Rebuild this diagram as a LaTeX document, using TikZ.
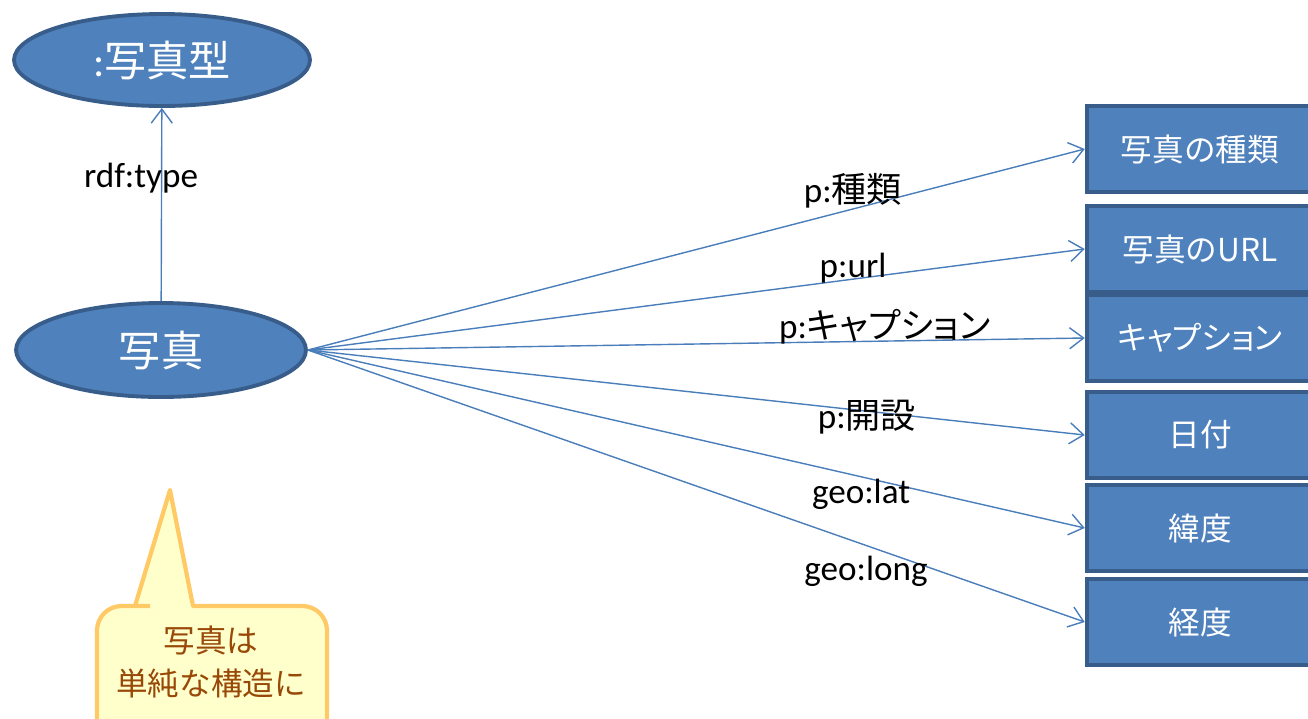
\documentclass[tikz,border=0pt]{standalone}
\usepackage{fontspec}
\setmainfont{Carlito}
\newfontfamily\cjk{Noto Sans CJK JP}
\newfontfamily\cjkprop[RawFeature=+palt]{Noto Sans CJK JP}
\usetikzlibrary{arrows.meta,shapes.geometric}

\definecolor{nodefill}{RGB}{79,129,189}
\definecolor{nodeline}{RGB}{56,93,138}
\definecolor{linkblue}{RGB}{74,126,187}
\definecolor{notefill}{RGB}{255,255,204}
\definecolor{noteline}{RGB}{255,201,102}
\definecolor{notetext}{RGB}{152,72,7}

\tikzset{
  resource/.style={ellipse, draw=nodeline, fill=nodefill, line width=2.2pt,
    text=white, inner sep=0pt, font=\fontsize{24}{28}\selectfont},
  literal/.style={rectangle, draw=nodeline, fill=nodefill, line width=2.6pt,
    text=white, minimum width=4.52cm, minimum height=1.72cm,
    font=\fontsize{18}{21}\selectfont},
  link/.style={draw=linkblue, line width=0.8pt,
    -{Straight Barb[length=8pt,width=12pt,line width=0.8pt]}},
  prop/.style={font=\fontsize{20}{24}\selectfont, inner sep=1pt},
}

\begin{document}
\begin{tikzpicture}[x=0.02cm, y=-0.02cm]

% picture frame (pixel grid of the slide)
\useasboundingbox (0,0) rectangle (1308,718);

% subject and its class
\node[resource, minimum width=5.92cm, minimum height=1.84cm] (phototype) at (162,60) {:\cjk{写真型}};
\node[resource, minimum width=5.8cm, minimum height=1.88cm] (photo) at (161,350) {\cjk{写真}};

\draw[link] (photo) -- (phototype);
\node[prop] (typelbl) at (141,178) {rdf:type};

% literal values
\node[literal] (kind)    at (1200,149) {\cjk{写真の種類}};
\node[literal] (url)     at (1200,249) {\cjk{写真の}URL};
\node[literal] (caption) at (1200,338) {\cjkprop{キャプション}};
\node[literal] (date)    at (1200,435) {\cjk{日付}};
\node[literal] (lat)     at (1200,528) {\cjk{緯度}};
\node[literal] (long)    at (1200,622) {\cjk{経度}};

% properties
\foreach \target in {kind,url,caption,date,lat,long}
  \draw[link] (photo.east) -- (\target.west);

\node[prop] (kindlbl)    at (853,191) {p:\cjk{種類}};
\node[prop] (urllbl)     at (853,268) {p:url};
\node[prop] (captionlbl) at (885,327) {p:\cjkprop{キャプション}};
\node[prop] (datelbl)    at (867,417) {p:\cjk{開設}};
\node[prop] (latlbl)     at (861,494) {geo:lat};
\node[prop] (longlbl)    at (866,571) {geo:long};

% note balloon
\draw[draw=noteline, fill=notefill, line width=2.4pt, line join=round]
  (150,606) -- (135,606) -- (170,490) -- (193,606)
  [rounded corners=14] -- (327,606) -- (327,760) -- (97,760) -- (97,606) -- (150,606);
\node[text=notetext, align=center, font=\fontsize{18}{25}\selectfont\cjk] (note) at (211,662)
  {写真は\\単純な構造に};

\end{tikzpicture}
\end{document}
